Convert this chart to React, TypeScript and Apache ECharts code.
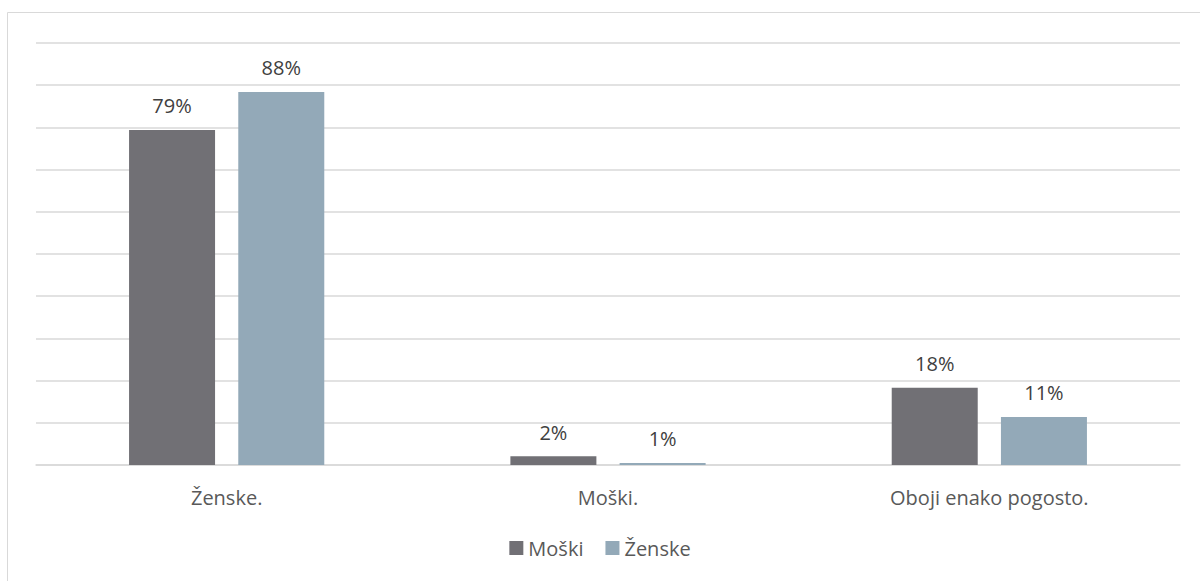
import React, { useEffect, useRef } from "react";
import * as echarts from "echarts";

const categories = ["Ženske.", "Moški.", "Oboji enako pogosto."];
const seriesNames = ["Moški", "Ženske"];
const moskiValues = [79.4, 2.1, 18.3];
const zenskeValues = [88.4, 0.5, 11.4];
const colors = ["#717075", "#93a9b8"];

export default function App() {
  const ref = useRef<HTMLDivElement>(null);
  useEffect(() => {
    document.body.style.margin = "0";
    const chart = echarts.init(ref.current!, null, { renderer: "svg" });
    const font = "'Open Sans', 'Noto Sans', sans-serif";
    const label = {
      show: true,
      position: "top",
      distance: 14,
      color: "#404040",
      fontSize: 20,
      fontFamily: font,
      formatter: (p: any) => Math.round(p.value) + "%",
    };
    chart.setOption({
      animation: false,
      backgroundColor: "#ffffff",
      color: colors,
      textStyle: { fontFamily: font },
      graphic: [
        {
          type: "rect",
          shape: { x: 7.5, y: 12.5, width: 1210, height: 600 },
          style: { fill: "none", stroke: "#d9d9d9", lineWidth: 1 },
          silent: true,
        },
      ],
      grid: { left: 36, right: 20, top: 43, bottom: 116, containLabel: false },
      legend: {
        bottom: 18,
        left: "center",
        itemWidth: 14,
        itemHeight: 14,
        itemGap: 22,
        icon: "rect",
        textStyle: { color: "#595959", fontSize: 20, fontFamily: font },
        data: seriesNames,
      },
      xAxis: {
        type: "category",
        data: categories,
        axisLine: { lineStyle: { color: "#d9d9d9", width: 1.5 } },
        axisTick: { show: false },
        axisLabel: { color: "#595959", fontSize: 20, fontFamily: font, margin: 22 },
      },
      yAxis: {
        type: "value",
        min: 0,
        max: 100,
        interval: 10,
        axisLabel: { show: false },
        axisLine: { show: false },
        axisTick: { show: false },
        splitLine: { lineStyle: { color: "#d9d9d9", width: 1.5 } },
      },
      series: [
        {
          name: seriesNames[0],
          type: "bar",
          data: moskiValues,
          barWidth: 86,
          barGap: "27%",
          label,
        },
        {
          name: seriesNames[1],
          type: "bar",
          data: zenskeValues,
          barWidth: 86,
          label,
        },
      ],
    });
    return () => chart.dispose();
  }, []);
  return <div ref={ref} style={{ width: 1200, height: 581 }} />;
}
